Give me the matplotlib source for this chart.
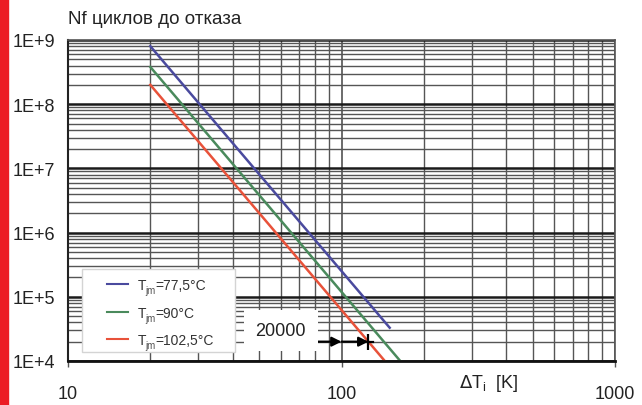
import numpy as np
import matplotlib
matplotlib.use("Agg")
import matplotlib.pyplot as plt
from matplotlib.patches import Rectangle
from matplotlib.ticker import LogLocator, FuncFormatter, NullFormatter

plt.rcParams['font.family'] = ['Liberation Sans', 'DejaVu Sans']

# Кривые Nf(ΔT) для трёх значений Tjm (конечные точки прямых в лог-лог)
dT_blue = [20, 150]
nf_blue = [8.0e8, 3.3e4]
dT_green = [20, 164]
nf_green = [3.8e8, 1.0e4]
dT_red = [20, 144]
nf_red = [2.0e8, 1.0e4]

labels = ['=77,5°C', '=90°C', '=102,5°C']
colors = ['#4a4a9e', '#4a8a5c', '#e8523a']

n_target = 20000

W, H = 642, 406
fig = plt.figure(figsize=(W / 100, H / 100), dpi=100)
ax = fig.add_axes([68 / W, 1 - 362 / H, 547 / W, 321 / H])

# красная полоса слева
fig.patches.append(Rectangle((0, 0), 8 / W, 1, transform=fig.transFigure,
                             color='#ec1c24', zorder=0))

ax.set_xscale('log')
ax.set_yscale('log')
ax.set_xlim(10, 1000)
ax.set_ylim(1e4, 1e9)

ax.xaxis.set_major_locator(LogLocator(base=10))
ax.yaxis.set_major_locator(LogLocator(base=10))
ax.xaxis.set_minor_locator(LogLocator(base=10, subs=np.arange(2, 10)))
ax.yaxis.set_minor_locator(LogLocator(base=10, subs=np.arange(2, 10)))
ax.xaxis.set_minor_formatter(NullFormatter())
ax.yaxis.set_minor_formatter(NullFormatter())
ax.xaxis.set_major_formatter(FuncFormatter(lambda v, p: '%d' % round(v)))
ax.yaxis.set_major_formatter(
    FuncFormatter(lambda v, p: '1E+%d' % round(np.log10(v))))

ax.grid(True, which='minor', color='#555555', lw=1.0)
ax.xaxis.grid(True, which='major', color='#444444', lw=1.1)
ax.yaxis.grid(True, which='major', color='#1a1a1a', lw=1.8)
ax.set_axisbelow(True)

ax.tick_params(axis='y', which='both', length=0, pad=9, labelsize=13,
               labelcolor='#222222')
ax.tick_params(axis='x', which='major', length=4, width=1, pad=13,
               labelsize=13, labelcolor='#222222', color='#555555')
ax.tick_params(axis='x', which='minor', length=0)

for s in ['top', 'right']:
    ax.spines[s].set_color('#555555')
    ax.spines[s].set_linewidth(1.2)
ax.spines['left'].set_color('#222222')
ax.spines['left'].set_linewidth(1.5)
ax.spines['bottom'].set_color('#111111')
ax.spines['bottom'].set_linewidth(2.0)

ax.plot(dT_blue, nf_blue, color=colors[0], lw=1.8)
ax.plot(dT_green, nf_green, color=colors[1], lw=1.8)
ax.plot(dT_red, nf_red, color=colors[2], lw=1.8)

# легенда: рамка, отрезки линий и подписи
ax.add_patch(Rectangle((0.0256, 0.028), 0.279, 0.259, transform=ax.transAxes,
                       fc='white', ec='#d4d4d4', lw=1.0, zorder=3))
rows = [0.2399, 0.1526, 0.0685]
for y, c, lab in zip(rows, colors, labels):
    ax.plot([0.0713, 0.1097], [y, y], color=c, lw=1.5,
            transform=ax.transAxes, zorder=4)
    ax.text(0.128, y - 0.016, 'T', fontsize=10, color='#333333',
            transform=ax.transAxes, ha='left', va='baseline', zorder=4)
    ax.text(0.141, y - 0.029, 'jm', fontsize=7, color='#555555',
            transform=ax.transAxes, ha='left', va='baseline', zorder=4)
    ax.text(0.159, y - 0.016, lab, fontsize=10, color='#333333',
            transform=ax.transAxes, ha='left', va='baseline', zorder=4)

# точка пересечения красной прямой с уровнем n_target
k = np.log10(nf_red[1] / nf_red[0]) / np.log10(dT_red[1] / dT_red[0])
x_cross = dT_red[0] * (n_target / nf_red[0]) ** (1 / k)

ax.text(60, 3.0e4, str(n_target), fontsize=13, ha='center', va='center',
        color='#222222', zorder=4,
        bbox=dict(boxstyle='square,pad=0.65', fc='white', ec='none'))
ax.annotate('', xy=(100, n_target), xytext=(82, n_target),
            arrowprops=dict(arrowstyle='-|>', color='black', lw=1.6,
                            mutation_scale=14, shrinkA=0, shrinkB=0))
ax.annotate('', xy=(x_cross, n_target), xytext=(100, n_target),
            arrowprops=dict(arrowstyle='-|>', color='black', lw=1.6,
                            mutation_scale=14, shrinkA=0, shrinkB=0))
ax.plot([x_cross, x_cross * 1.04], [n_target, n_target], color='black',
        lw=1.6)
ax.plot([x_cross], [n_target], marker='|', ms=11, mew=1.6, color='black')

ax.text(0.77, -0.068, r'$\Delta$T$_\mathregular{i}$  [K]', fontsize=13,
        ha='center', va='center', transform=ax.transAxes, color='#222222')

fig.text(68 / W, 1 - 20 / H, 'Nf циклов до отказа', fontsize=13.5,
         ha='left', va='center', color='#222222')

fig.savefig('out.png', dpi=100)
